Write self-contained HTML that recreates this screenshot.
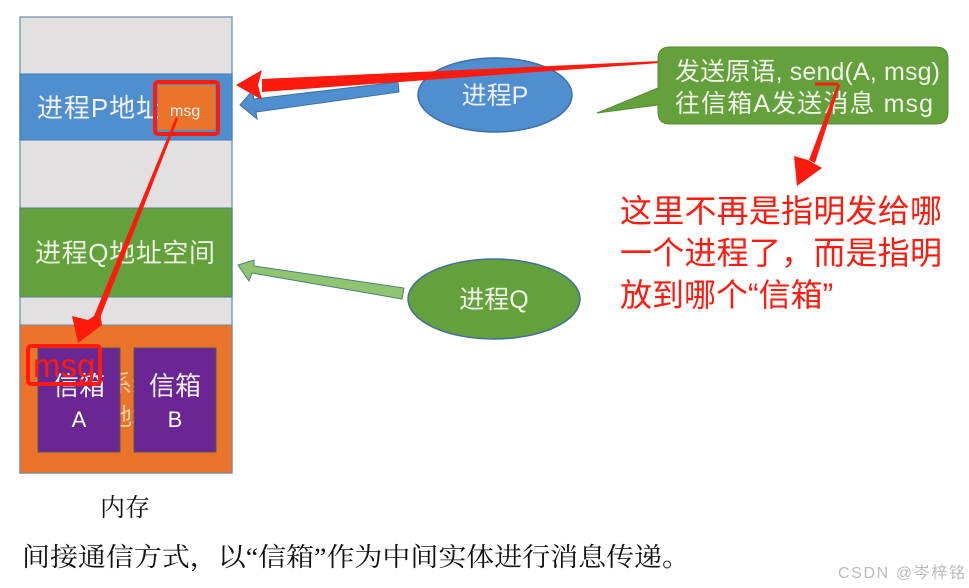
<!DOCTYPE html>
<html><head><meta charset="utf-8"><style>
html,body{margin:0;padding:0;background:#fff;}
svg{display:block;font-family:"Liberation Sans","Noto Sans CJK SC",sans-serif;}
</style></head><body>
<svg width="969" height="588" viewBox="0 0 969 588" xmlns="http://www.w3.org/2000/svg">
<rect x="20" y="17" width="212" height="456" fill="#e2e0e1" stroke="#7f9fb8" stroke-width="1.5"/>
<rect x="20" y="74" width="212" height="66" fill="#4f8fd0" stroke="#4a7ab0"/>
<rect x="20" y="208" width="212" height="89" fill="#64a03c" stroke="#4f7f8a"/>
<rect x="20" y="325" width="212" height="148" fill="#ec732a" stroke="#6f88a0"/>
<text x="37" y="117" font-size="26" fill="#f2f2f2" textLength="125">进程P地址</text>
<rect x="158" y="85" width="57" height="45" fill="#ec732a"/>
<rect x="155" y="82" width="63" height="52" fill="none" stroke="#ff1a0e" stroke-width="4" rx="3"/>
<text x="170" y="116" font-size="16" fill="#f5f5f5">msg</text>
<text x="35" y="262" font-size="26" fill="#eaf2e2" textLength="180">进程Q地址空间</text>
<text x="108" y="392" font-size="24" fill="#f6d0a0">系统</text>
<text x="108" y="425" font-size="24" fill="#f6d0a0">地址</text>
<rect x="38" y="348" width="82" height="104" fill="#6a2794" stroke="#555"/>
<rect x="134" y="348" width="82" height="104" fill="#6a2794" stroke="#555"/>
<text x="79" y="395" font-size="26" fill="#eee" text-anchor="middle">信箱</text>
<text x="79" y="427" font-size="22" fill="#fff" text-anchor="middle">A</text>
<text x="175" y="395" font-size="26" fill="#eee" text-anchor="middle">信箱</text>
<text x="175" y="427" font-size="22" fill="#fff" text-anchor="middle">B</text>
<rect x="28" y="346" width="72" height="38" fill="none" stroke="#ff1a0e" stroke-width="4" rx="3"/>
<text x="33" y="377" font-size="33" fill="#ff1a0e">msg</text>
<polygon points="176,117 178,119 100,318 94,316" fill="#ff1a0e"/>
<polygon points="78,343 72,316 88,320 100,312 102,325" fill="#ff1a0e"/>
<ellipse cx="495" cy="95" rx="77" ry="37" fill="#4f8fd0" stroke="#3f70a8" stroke-width="1.5"/>
<text x="495" y="104" font-size="25" fill="#eef" text-anchor="middle">进程P</text>
<ellipse cx="494" cy="299" rx="86" ry="40" fill="#64a03c" stroke="#3f70a0" stroke-width="1.5"/>
<text x="494" y="308" font-size="25" fill="#eef5e8" text-anchor="middle">进程Q</text>
<polygon points="398,82 399,92 256,112 257,119 240,105 252,91 254,99" fill="#4f8fd0" stroke="#3f6f9f" stroke-width="1"/>
<polygon points="660,61 660,63 262,92 262,79" fill="#ff1a0e"/>
<polygon points="236,85 262,70 258,85 262,100" fill="#ff1a0e"/>
<polygon points="404,288 402,299 252,273 249,281 238,265 254,260 254,266" fill="#8fc470" stroke="#4f7f7a" stroke-width="1"/>
<path d="M670,47 H936 Q948,47 948,59 V112 Q948,124 936,124 H670 Q658,124 658,112 V105 L597,113 L658,88 V59 Q658,47 670,47 Z" fill="#64a03c" stroke="#568a36"/>
<text x="675" y="80" font-size="25" fill="#f0f5ea" textLength="265">发送原语, send(A, msg)</text>
<text x="675" y="112" font-size="25" fill="#f0f5ea" textLength="258">往信箱A发送消息 msg</text>
<line x1="815" y1="84" x2="838" y2="84" stroke="#ff1a0e" stroke-width="3"/>
<polygon points="838,83 840,85 815,163 809,160" fill="#ff1a0e"/>
<polygon points="797,186 794,156 808,160 822,168" fill="#ff1a0e"/>
<g font-size="32" fill="#ff1a0e">
<text x="620" y="222" textLength="322">这里不再是指明发给哪</text>
<text x="620" y="264" textLength="322">一个进程了，而是指明</text>
<text x="620" y="306">放到哪个“信箱”</text>
</g>
<text x="100" y="516" font-size="25" fill="#111" font-family="'Liberation Serif','Noto Serif CJK SC',serif">内存</text>
<text x="22" y="566" font-size="26" fill="#111" font-family="'Liberation Serif','Noto Serif CJK SC',serif" textLength="668" lengthAdjust="spacingAndGlyphs">间接通信方式，以“信箱”作为中间实体进行消息传递。</text>
<text x="838" y="578" font-size="16" fill="#bbb" textLength="127">CSDN @岑梓铭</text>
</svg>
</body></html>
